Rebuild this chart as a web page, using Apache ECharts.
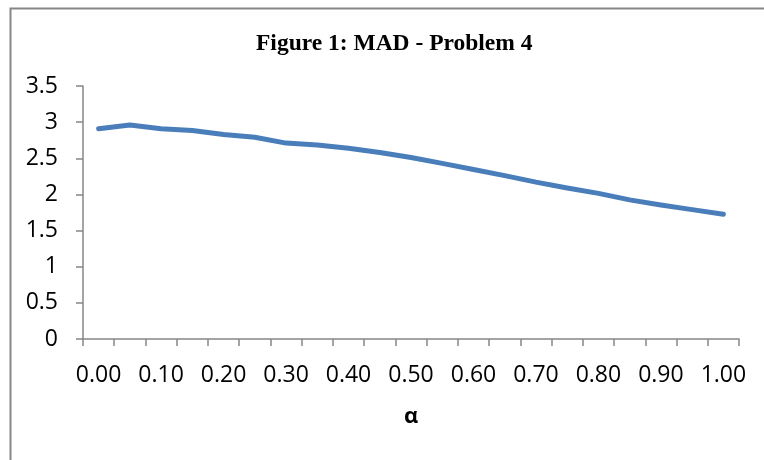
<!DOCTYPE html>
<html>
<head>
<meta charset="utf-8">
<script src="https://cdn.jsdelivr.net/npm/echarts@6/dist/echarts.min.js"></script>
<style>html,body{margin:0;padding:0;background:#fff;}#c{width:764px;height:460px;}</style>
</head>
<body>
<div id="c"></div>
<script>
const categories = ['0.00','0.05','0.10','0.15','0.20','0.25','0.30','0.35','0.40','0.45','0.50','0.55','0.60','0.65','0.70','0.75','0.80','0.85','0.90','0.95','1.00'];
const madValues = [2.91, 2.96, 2.91, 2.885, 2.83, 2.79, 2.71, 2.685, 2.64, 2.58, 2.51, 2.43, 2.345, 2.26, 2.17, 2.09, 2.015, 1.925, 1.855, 1.79, 1.725];
const titleText = 'Figure 1: MAD - Problem 4';
const xName = 'α';

const chart = echarts.init(document.getElementById('c'), null, {renderer: 'canvas'});
chart.setOption({
  animation: false,
  backgroundColor: '#fff',
  graphic: [{
    type: 'rect', left: 8, top: 6, silent: true,
    shape: {x: 0, y: 0, width: 800, height: 500},
    style: {fill: 'none', stroke: '#878787', lineWidth: 2}
  }],
  title: {
    text: titleText, left: 251, top: 27,
    textStyle: {fontFamily: 'Liberation Serif', fontWeight: 'bold', fontSize: 23.5, color: '#000'}
  },
  grid: {left: 83, right: 25, top: 86, bottom: 121, containLabel: false},
  xAxis: {
    type: 'category', data: categories, boundaryGap: true,
    name: xName, nameLocation: 'middle', nameGap: 67,
    nameTextStyle: {fontFamily: 'Open Sans', fontWeight: 'bold', fontSize: 22, color: '#000'},
    axisLine: {lineStyle: {color: '#868686', width: 1.5}},
    axisTick: {show: true, interval: 0, length: 7, lineStyle: {color: '#868686', width: 1.5}},
    axisLabel: {interval: 1, margin: 25, fontFamily: 'Open Sans', fontSize: 23, color: '#000'},
    splitLine: {show: false}
  },
  yAxis: {
    type: 'value', min: 0, max: 3.5, interval: 0.5,
    axisLine: {show: true, lineStyle: {color: '#868686', width: 1.5}},
    axisTick: {show: true, length: 7, lineStyle: {color: '#868686', width: 1.5}},
    axisLabel: {margin: 25, fontFamily: 'Open Sans', fontSize: 23, color: '#000'},
    splitLine: {show: false}
  },
  series: [{
    type: 'line', data: madValues, showSymbol: false, symbol: 'none',
    lineStyle: {color: '#4a7ebb', width: 5, cap: 'round', join: 'round'}
  }]
});
</script>
</body>
</html>
